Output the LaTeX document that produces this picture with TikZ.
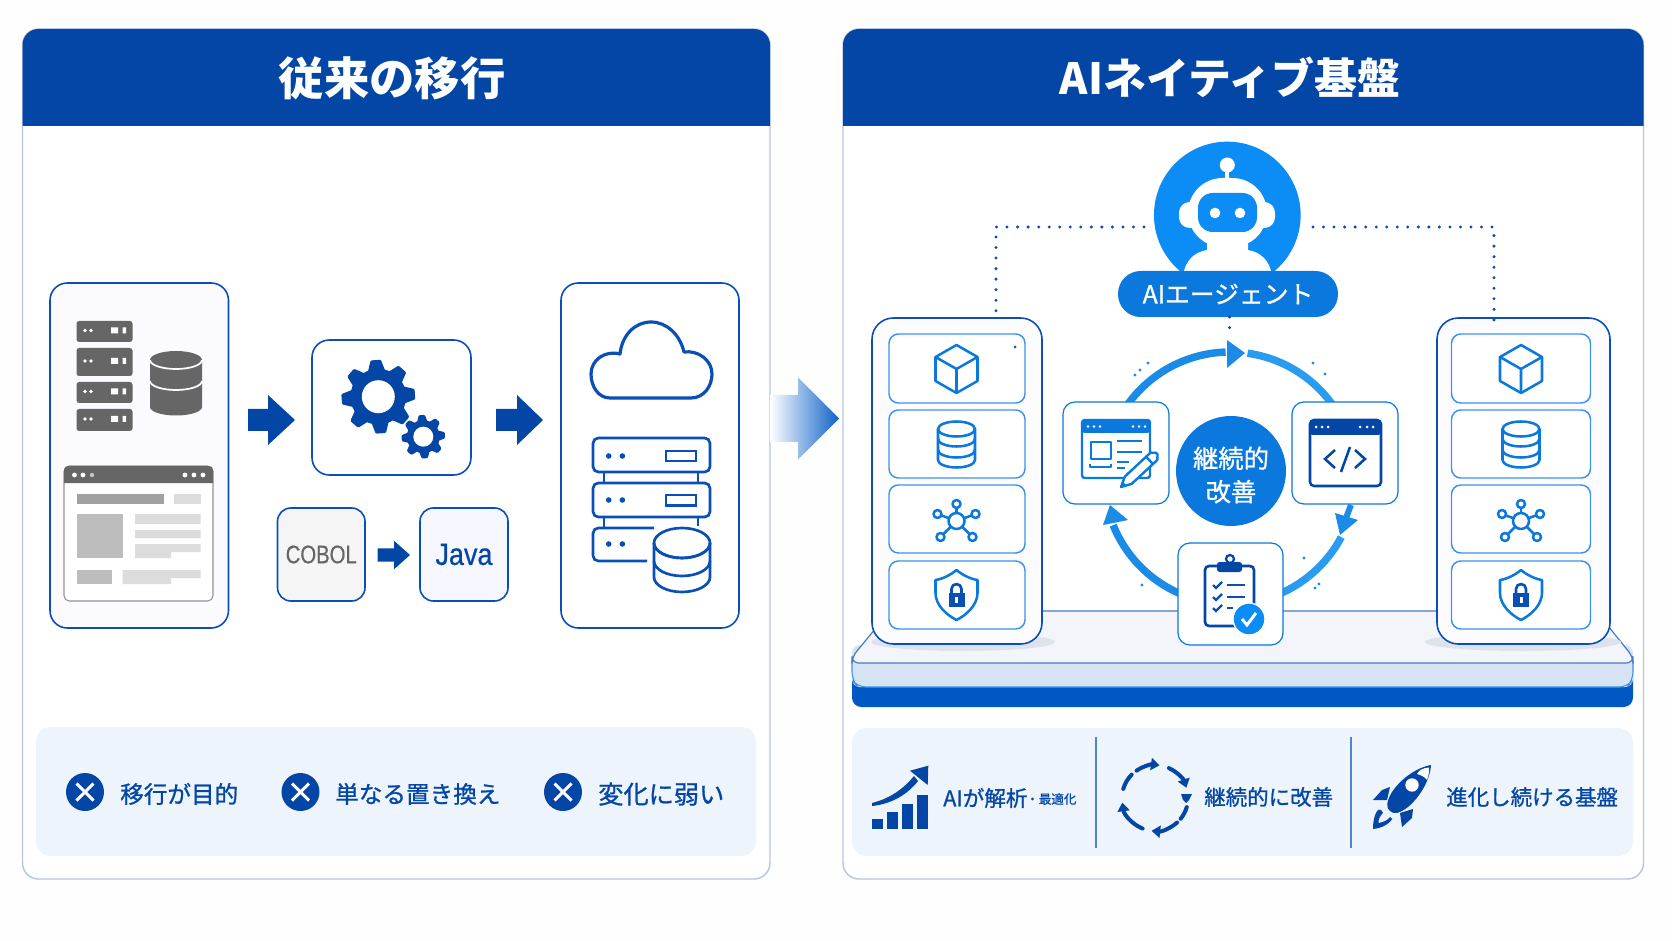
\documentclass[tikz,border=0pt]{standalone}
\usepackage{fontspec}
\usepackage{graphicx}
\setmainfont{Noto Sans CJK JP}
\newfontfamily\medf{Noto Sans CJK JP}[FakeBold=0.9]
\newfontfamily\latinf{Liberation Sans}
\newfontfamily\latinm{Liberation Sans}[FakeBold=0.6]
\usetikzlibrary{arrows.meta,calc,shadings}
\definecolor{navy}{HTML}{0346A5}
\definecolor{linev}{HTML}{0A4FB5}
\definecolor{bright}{HTML}{0A78DC}
\definecolor{sky}{HTML}{0C8CF5}
\definecolor{ringc}{HTML}{1A8CE8}
\definecolor{ringd}{HTML}{2A9CF0}
\definecolor{cardl}{HTML}{3D93EA}
\definecolor{panell}{HTML}{B5C7E3}
\definecolor{bandc}{HTML}{EEF4FC}
\definecolor{grayd}{HTML}{666666}
\definecolor{graym}{HTML}{BDBDBD}
\definecolor{grayl}{HTML}{DCDCDC}
\definecolor{arrowb}{HTML}{0F62C8}
\definecolor{platb}{HTML}{0058C4}
\definecolor{platf}{HTML}{D6E3F2}
\definecolor{platt}{HTML}{F3F5FA}
\definecolor{plats}{HTML}{DCE3EE}
\definecolor{paper}{HTML}{FEFEFE}
\newcommand{\bx}[7]{%
  \pgfmathsetmacro\bxw{(#4-#2)*0.75}\pgfmathsetmacro\bxh{(#5-#3)*0.75}%
  \node[#6,inner sep=0pt,outer sep=0pt,minimum width=\bxw pt,minimum height=\bxh pt] (#1) at ({(#2+#4)/2},{(#3+#5)/2}) {#7};}
\newcommand{\blockarrow}[7]{%
  \path[#1] (#2,#5-#6) -- (#3,#5-#6) -- (#3,#5-#7) -- (#4,#5) -- (#3,#5+#7) -- (#3,#5+#6) -- (#2,#5+#6) -- cycle;}
\newcommand{\dbicon}[6]{%
  \draw[#1] (#2-#5,#3) -- (#2-#5,#4) arc[start angle=180,end angle=0,x radius=#5,y radius=#6] -- (#2+#5,#3);
  \draw[#1] (#2,#3) ellipse[x radius=#5,y radius=#6];}
\newcommand{\dbmid}[5]{\draw[#1] (#2-#4,#3) arc[start angle=180,end angle=0,x radius=#4,y radius=#5];}
\newcommand{\cubeicon}[2]{\begin{scope}[shift={(#1,#2)},iconl]
  \draw (0,-24) -- (21,-12) -- (21,12) -- (0,24) -- (-21,12) -- (-21,-12) -- cycle;
  \draw (-21,-12) -- (0,0) -- (21,-12) (0,0) -- (0,24);\end{scope}}
\newcommand{\netshield}[1]{%
  \begin{scope}[shift={(#1,521)},iconl]
  \foreach \p in {(0,-17),(-19,-7),(19,-7),(-16,16),(16,16)} \draw \p -- (0,0);
  \foreach \p in {(0,-17),(-19,-7),(19,-7),(-16,16),(16,16)} \draw[fill=white] \p circle[radius=4];
  \draw[fill=white] (0,0) circle[radius=8];
  \end{scope}
  \begin{scope}[shift={(#1,595)},iconl]
  \draw (0,-25) .. controls (6,-20) and (14,-16) .. (21,-15) -- (21,-2) .. controls (21,10) and (10,20) .. (0,25) .. controls (-10,20) and (-21,10) .. (-21,-2) -- (-21,-15) .. controls (-14,-16) and (-6,-20) .. cycle;
  \fill[linev] (-8,-2) rectangle (8,12);
  \draw[linev,line width=2pt] (-5,-2) -- (-5,-6) arc[start angle=180,end angle=360,radius=5] -- (5,-2);
  \fill[white] (-1.5,2) rectangle (1.5,8);
  \end{scope}}
\newcommand{\gearicon}[4]{\begin{scope}[shift={(#1,#2)}]
  \fill[navy] (0,0) circle[radius=#3*0.76];
  \foreach \a in {0,45,...,315}{\fill[navy,rotate=\a+4,rounded corners=.8pt] (-#3*0.14,-#3) -- (#3*0.14,-#3) -- (#3*0.24,-#3*0.68) -- (-#3*0.24,-#3*0.68) -- cycle;}
  \fill[white] (0,0) circle[radius=#4];\end{scope}}
\tikzset{
  panelbox/.style={draw=panell,line width=1.1pt,fill=white,rounded corners=12pt},
  flowbox/.style={draw=linev,line width=1.2pt,fill=white,rounded corners=13pt},
  grayflow/.style={draw=linev,line width=1.2pt,fill=black!3,rounded corners=13pt},
  bandbox/.style={fill=bandc,rounded corners=11pt},
  rackbox/.style={draw=linev,line width=1.2pt,fill=blue!1,rounded corners=16pt},
  rackcard/.style={draw=cardl,line width=1.1pt,fill=white,rounded corners=7pt},
  loopcard/.style={draw=bright,line width=.9pt,fill=white,rounded corners=9pt},
  iconl/.style={draw=bright,line width=1.9pt,line join=round},
  ringl/.style={draw=ringc,line width=5.6pt},
  bluefill/.style={fill=navy},
  dotl/.style={draw=linev,line width=2.5pt,line cap=round,dash pattern=on 0pt off 7.9pt},
  title/.style={text=white,font=\fontsize{34}{38}\selectfont\bfseries,inner sep=0pt},
  lab/.style={text=navy,font=\fontsize{17.7}{20}\selectfont\medf,inner sep=0pt,anchor=west},
  labr/.style={text=navy,font=\fontsize{16.1}{20}\selectfont\medf,inner sep=0pt,anchor=west},
  cyc/.style={draw=navy,line width=3pt,line cap=round},
  cyca/.style={cyc,-{Triangle[length=6.5pt,width=9pt]}},
}
\begin{document}
\begin{tikzpicture}[x=0.75pt,y=-0.75pt]
\useasboundingbox (0,0) rectangle (1672,941);
\fill[paper] (0,0) rectangle (1672,941);
% panels
\bx{panelL}{22.5}{29}{770}{879}{panelbox}{}
\bx{panelR}{843}{29}{1643.5}{879}{panelbox}{}
\fill[navy] (22.5,126) -- (22.5,45) arc[start angle=180,end angle=270,radius=16] -- (754,29) arc[start angle=270,end angle=360,radius=16] -- (770,126) -- cycle;
\fill[navy] (843,126) -- (843,45) arc[start angle=180,end angle=270,radius=16] -- (1627.5,29) arc[start angle=270,end angle=360,radius=16] -- (1643.5,126) -- cycle;
\node[title] (titleL) at (392,78) {従来の移行};
\node[title,font=\fontsize{32.2}{38}\selectfont\bfseries] (titleR) at (1230,78) {AIネイティブ基盤};
% left flow
\bx{legacy}{50}{283}{228.5}{628}{grayflow,fill=blue!2}{}
\bx{gears}{312}{340}{471}{475}{flowbox}{}
\bx{cloudbox}{561}{283}{739}{628}{flowbox}{}
\bx{cobol}{277.5}{508}{365}{601}{grayflow,fill=black!4,rounded corners=10pt}{\scalebox{.8}[1]{\fontsize{19}{20}\selectfont\latinm\color{grayd}COBOL}}
\bx{java}{420}{508}{508}{601}{grayflow,fill=blue!3,rounded corners=10pt}{\fontsize{23}{24}\selectfont\latinm\color{navy}\scalebox{.88}[1]{Java}}
\blockarrow{bluefill}{248}{268}{295}{420}{11}{25}
\blockarrow{bluefill}{496}{517}{543}{420}{11}{25}
\blockarrow{bluefill}{377.5}{394}{410}{555}{6.7}{14.3}
\blockarrow{left color=white,right color=arrowb}{770}{798}{839}{418.5}{23.5}{41}
% gray servers
\foreach \ya/\yb in {321/342,348/376,382/403,409/431}{
  \fill[grayd,rounded corners=2pt] (76.5,\ya) rectangle (132.5,\yb);
  \fill[white] (85,{(\ya+\yb)/2-1}) circle[radius=1.8] (91,{(\ya+\yb)/2-1}) circle[radius=1.8];
  \fill[white] (111,{(\ya+\yb)/2-4}) rectangle (118,{(\ya+\yb)/2+2}) (122.5,{(\ya+\yb)/2-4}) rectangle (126,{(\ya+\yb)/2+2});
}
\fill[grayd] (176,360) ellipse[x radius=26,y radius=9];
\fill[grayd] (150,360) rectangle (202,407) (150,407) arc[start angle=180,end angle=0,x radius=26,y radius=8.5];
\dbmid{draw=white,line width=1.3pt}{176}{360}{26}{9}
\dbmid{draw=white,line width=1.3pt}{176}{381}{26}{9}
% gray window
\fill[white,draw=grayd!70,line width=.8pt,rounded corners=4pt] (64,466) rectangle (213,601);
\fill[grayd] (64,483) -- (64,470) arc[start angle=180,end angle=270,radius=4] -- (209,466) arc[start angle=270,end angle=360,radius=4] -- (213,483) -- cycle;
\foreach \x in {74.5,83,185,194,203}{\fill[white] (\x,475) circle[radius=2.4];}
\fill[white!60!grayd] (92,475) circle[radius=2.2];
\fill[graym!85!black] (76.5,494) rectangle (164,504);
\fill[grayl] (174,494) rectangle (201,504);
\fill[graym] (76.5,514) rectangle (122.5,558);
\fill[grayl] (135,514) rectangle (200.5,524) (135,530) rectangle (200.5,538) (135,544) rectangle (200.5,552) (135,552) rectangle (171,558);
\fill[graym] (76.5,570) rectangle (112,584);
\fill[grayl] (122.5,570) rectangle (200.5,578) (122.5,578) rectangle (171,584);
% gears
\gearicon{378.3}{396.7}{36.7}{16.5}
\gearicon{423.3}{436.7}{21.7}{10}
% cloud
\draw[linev,line width=2.4pt,line join=round] (610,398) .. controls (598,398) and (591,386) .. (591,374) .. controls (591,360) and (605,350) .. (620,354) .. controls (622,335) and (635,322) .. (651,322) .. controls (667,322) and (680,335) .. (684,352) .. controls (698,350) and (712,360) .. (712,374) .. controls (712,386) and (704,398) .. (691,398) -- cycle;
% blue servers
\begin{scope}[draw=linev,line width=2pt]
\draw (604,472) -- (604,483) (698,472) -- (698,483) (604,517) -- (604,528) (698,517) -- (698,526);
\draw[rounded corners=4pt] (593,438) rectangle (710,472);
\draw[rounded corners=4pt] (593,483) rectangle (710,517);
\draw[rounded corners=4pt] (654,528) -- (593,528) -- (593,561) -- (647,561);
\draw (666,451) rectangle (696,461);
\draw (666,495) rectangle (696,505.5);
\foreach \y in {456,500,544}{\fill[linev] (608.7,\y) circle[radius=2.8] (622.4,\y) circle[radius=2.8];}
\end{scope}
\dbicon{draw=linev,line width=2pt,fill=white}{682}{543}{577}{28}{15}
\dbmid{draw=linev,line width=2pt}{682}{543}{28}{15}
\dbmid{draw=linev,line width=2pt}{682}{561}{28}{15}
% bottom bands
\bx{bandL}{36}{727}{756}{856}{bandbox}{}
\bx{bandR}{852}{728}{1633}{856}{bandbox}{}
\foreach \nm/\x in {xa/85,xb/300.5,xc/563}{
  \node[circle,fill=navy,minimum size=28.5pt,inner sep=0pt] (\nm) at (\x,792) {};
  \draw[white,line width=2.2pt] (\x-8.5,783.5) -- (\x+8.5,800.5) (\x-8.5,800.5) -- (\x+8.5,783.5);
}
\node[lab] (la) at (120,794) {移行が目的};
\node[lab] (lb) at (335,794) {単なる置き換え};
\node[lab,font=\fontsize{18.9}{20}\selectfont\medf] (lc) at (598,794) {変化に弱い};
\draw[linev!70,line width=.8pt] (1096,737) -- (1096,848) (1351,737) -- (1351,848);
% chart icon
\foreach \a/\b/\t in {871.7/882.7/819,887.3/897.7/812.3,902.3/912.7/804,917.3/928.3/795}{\fill[navy] (\a,\t) rectangle (\b,829.3);}
\fill[navy] (872,803) .. controls (892,798) and (905,787) .. (914,776) -- (918,781) .. controls (908,794) and (892,804) .. (872,806) -- cycle;
\fill[navy] (928.3,765.7) -- (927.7,785) -- (910,770.7) -- cycle;
\node[labr] (lr1) at (943,798) {\fontsize{16.2}{20}\selectfont\medf AIが解析};
\node[labr,font=\fontsize{9.4}{12}\selectfont\medf] (lr1b) at (1026,799) {・最適化};
% cycle icon
\begin{scope}[shift={(1155,798)}]
\draw[cyc] (196:33) arc[start angle=196,end angle=225,radius=33];
\draw[cyca] (236:33) arc[start angle=236,end angle=278,radius=33];
\draw[cyca] (295:33) arc[start angle=295,end angle=342,radius=33];
\fill[navy] (26,-4) -- (37,-4) -- (34,2) -- (31,5) -- (28,2) -- cycle;
\draw[cyc] (16:33) arc[start angle=16,end angle=39,radius=33];
\draw[cyca] (48:33) arc[start angle=48,end angle=96,radius=33];
\draw[cyca] (112:33) arc[start angle=112,end angle=172,radius=33];
\end{scope}
\node[labr] (lr2) at (1204,797) {継続的に改善};
% rocket
\fill[navy] (1431,765) .. controls (1415,768) and (1400,780) .. (1392,792) .. controls (1386,802) and (1386,808) .. (1390,811) .. controls (1394,815) and (1400,813) .. (1408,807) .. controls (1420,797) and (1430,780) .. cycle;
\fill[white] (1429,767.5) .. controls (1423,768) and (1419,770) .. (1417,774) .. controls (1421,775) and (1425,777) .. (1427,780) .. controls (1429,775) and (1429,771) .. cycle;
\fill[white] (1412,785) circle[radius=6.7];
\fill[navy] (1373,800) -- (1382,790) -- (1390,787) -- (1387,800) -- cycle;
\fill[navy] (1400,813) -- (1413,809) -- (1412,818) -- (1402,827) -- cycle;
\fill[navy] (1373,829) .. controls (1373,815) and (1378,807) .. (1381,810) -- (1383,812.7) .. controls (1380,816) and (1378,820) .. (1378.5,823) .. controls (1384,822) and (1388,820) .. (1390,817) -- (1392.3,819) .. controls (1387,826) and (1381,828) .. cycle;
\node[labr] (lr3) at (1446,797) {進化し続ける基盤};
% platform
\bx{platbase}{852}{655}{1633}{707}{fill=platb,rounded corners=7pt}{}
\fill[platf,rounded corners=6pt] (852,645) rectangle (1633,687);
\draw[cardl,line width=.8pt,rounded corners=6pt] (852,660) -- (852,680) -- (858,687) -- (1627,687) -- (1633,680) -- (1633,660);
\filldraw[fill=platt,draw=linev!75!white,line width=.9pt,rounded corners=5pt] (890,611) -- (1596,611) -- (1633,657) -- (1633,663) -- (852,663) -- (852,657) -- cycle;
\fill[plats] (963,642) ellipse[x radius=92,y radius=9];
\fill[plats] (1523,642) ellipse[x radius=98,y radius=9];
% racks
\bx{rackL}{872}{318}{1042}{644}{rackbox}{}
\bx{rackR}{1437}{318}{1610}{644}{rackbox}{}
\foreach \nm/\xa/\xb in {l/889/1025,r/1451.5/1590.5}{
  \bx{\nm1}{\xa}{334}{\xb}{403}{rackcard}{}
  \bx{\nm2}{\xa}{410}{\xb}{478}{rackcard}{}
  \bx{\nm3}{\xa}{485}{\xb}{553}{rackcard}{}
  \bx{\nm4}{\xa}{561}{\xb}{629}{rackcard}{}
}
\foreach \cx in {956.5,1521}{
  \cubeicon{\cx}{369}
  \dbicon{iconl,fill=white}{\cx}{429}{460}{18.5}{7.5}
  \dbmid{iconl}{\cx}{439}{18.5}{7.5}
  \dbmid{iconl}{\cx}{450}{18.5}{7.5}
  \netshield{\cx}
}
% robot
\node[circle,fill=sky,minimum size=110pt,inner sep=0pt] (robot) at (1227.3,215) {};
\begin{scope}
\clip (1100,130) rectangle (1350,272);
\fill[white] (1183,276) .. controls (1185,260) and (1195,252) .. (1207,250) -- (1207,240) -- (1248,240) -- (1248,250) .. controls (1260,252) and (1270,260) .. (1272,276) -- cycle;
\end{scope}
\fill[white] (1227.3,165) circle[radius=7.5];
\fill[white] (1225.3,165) rectangle (1229.3,182);
\fill[white,rounded corners=8pt] (1179,202) rectangle (1275,228);
\fill[white,rounded corners=26pt] (1188,178) rectangle (1267,247);
\fill[sky,rounded corners=11pt] (1198,193) rectangle (1257,232);
\fill[white] (1215,213) circle[radius=5.3] (1240,213) circle[radius=5.3];
\bx{pill}{1118}{271}{1338}{317}{fill=bright,rounded corners=17pt,text=white,font=\fontsize{18.6}{22}\selectfont\medf}{AIエージェント}
% dotted
\coordinate (dotLa) at (1144,227);
\coordinate (dotLb) at (996,227);
\coordinate (dotRa) at (1313,227);
\coordinate (dotRb) at (1494,227);
\coordinate (dotRc) at (1494,328);
\coordinate (dotC) at (1229.6,334);
\draw[dotl] (dotLa) -- (dotLb) -- (dotLb |- rackL.north);
\draw[dotl] (dotRa) -- (dotRb) -- (dotRc);
\draw[dotl] (pill.south -| dotC) -- (dotC);
\fill[linev] (1015,347) circle[radius=1.5];
% ring
\draw[ringl] (1230,478) ++(205:126) arc[start angle=205,end angle=268,radius=126];
\draw[ringl,draw=ringd] (1230,478) ++(278:126) arc[start angle=278,end angle=340,radius=126];
\draw[ringl,draw=ringd] (1230,478) ++(28:126) arc[start angle=28,end angle=70,radius=126];
\draw[ringl] (1230,478) ++(110:126) arc[start angle=110,end angle=158,radius=126];
\fill[ringc] (1227,340) -- (1245,353) -- (1227,368) -- cycle;
\fill[ringc] (1335,513) -- (1358,520) -- (1340,535) -- cycle;
\draw[ringc,line width=4.5pt] (1351,505) -- (1346,518);
\fill[ringc] (1103,525) -- (1128,520) -- (1110,505) -- cycle;
\foreach \p in {(1135,375),(1140,370),(1148,363),(1313,363),(1325,374),(1315,588),(1319,584),(1142,585),(1304,558)}{\fill[ringc] \p circle[radius=1.6];}
% loop cards
\bx{planc}{1063}{402}{1169}{504}{loopcard}{}
\bx{codec}{1292}{402}{1398}{504}{loopcard}{}
\bx{testc}{1178}{543}{1283}{645}{loopcard}{}
\node[circle,fill=bright,minimum size=82.5pt,inner sep=0pt] (kaizen) at (1231,471) {};
\node[inner sep=0pt,align=center,text=white,font=\fontsize{19}{25}\selectfont\medf] (kaizent) at (1231,475) {継続的\\改善};
% plan icon
\begin{scope}[draw=bright,line width=1.8pt,line join=round]
\draw[rounded corners=2pt] (1082,420) rectangle (1150,478);
\fill[bright,rounded corners=2pt] (1082,420) rectangle (1150,433);
\foreach \x in {1088,1094,1100,1133,1139,1145}{\fill[white] (\x,426.5) circle[radius=1.4];}
\draw (1091,442) rectangle (1111,459);
\draw (1090,464) -- (1090,467) -- (1111,467) -- (1111,464);
\draw (1117,441) -- (1142,441) (1117,452) -- (1142,452) (1117,462) -- (1129,462) (1117,468) -- (1125,468);
\begin{scope}[shift={(1121,487)},rotate=43]
\filldraw[fill=white] (0,0) -- (10,-5) -- (45,-5) -- (49,-1) -- (49,1) -- (45,5) -- (10,5) -- cycle;
\draw (39,-5) -- (39,5);
\fill[bright] (0,0) -- (5,-2.5) -- (5,2.5) -- cycle;
\end{scope}
\end{scope}
% code icon
\fill[white,rounded corners=3pt] (1310,420) rectangle (1381,486);
\draw[navy,line width=1.9pt,rounded corners=3pt] (1310,420) rectangle (1381,486);
\fill[navy,rounded corners=2pt] (1310,420) rectangle (1381,435);
\foreach \x in {1316,1322,1328,1360,1367,1373}{\fill[white] (\x,427) circle[radius=1.5];}
\draw[navy,line width=1.9pt,line join=miter] (1335,450) -- (1325,459) -- (1335,468) (1355,450) -- (1365,459) -- (1355,468) (1350,447) -- (1341,472);
% clipboard icon
\draw[navy,line width=2pt,rounded corners=3pt] (1217,566) -- (1205,566) -- (1205,626) -- (1254,626) -- (1254,566) -- (1242,566);
\fill[navy,rounded corners=2pt] (1217,562) rectangle (1242,572);
\draw[navy,line width=1.7pt] (1230,559) circle[radius=4];
\foreach \y/\e in {585/1245,597/1245,608/1233}{
  \draw[linev,line width=1.7pt] (1213,\y) -- (1216,\y+3) -- (1222,\y-3);
  \draw[linev,line width=1.6pt] (1227,\y) -- (\e,\y);
}
\node[circle,fill=sky,draw=white,line width=1pt,minimum size=24pt,inner sep=0pt] (okmark) at (1249,619) {};
\draw[white,line width=2.2pt] (1242,619) -- (1247,625) -- (1256,613);
\end{tikzpicture}
\end{document}
